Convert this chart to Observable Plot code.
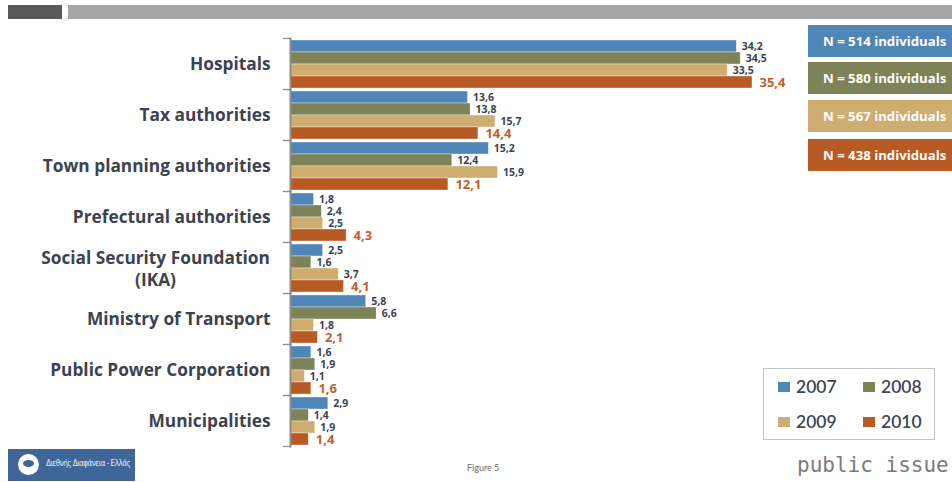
<!DOCTYPE html>
<html>
<head>
<meta charset="utf-8">
<script src="https://cdn.jsdelivr.net/npm/d3@7"></script>
<script src="https://cdn.jsdelivr.net/npm/@observablehq/plot@0.6"></script>
<style>
  html, body { margin: 0; padding: 0; background: #fff; }
  #page { position: relative; width: 952px; height: 482px; overflow: hidden; background: #fff; font-family: "Open Sans", Lato, sans-serif; }
  #chart { position: absolute; left: 0; top: 0; }
  .abs { position: absolute; }
  .nbox { position: absolute; left: 808px; width: 150px; height: 32px; line-height: 32px; color: #fff; font-weight: bold; font-size: 13.2px; padding-left: 15px; box-sizing: border-box; white-space: nowrap; font-family: "Open Sans", sans-serif; }
  #legend { position: absolute; left: 763px; top: 368px; width: 172px; height: 72px; border: 1px solid #c4c4c4; box-sizing: border-box; background: #fff; }
  .li { position: absolute; font-size: 17.5px; color: #3f4656; line-height: 14px; font-weight: 600; font-family: Lato, sans-serif; }
  .sw { position: absolute; width: 12px; height: 10px; }
</style>
</head>
<body>
<div id="page">
  <div id="chart"></div>
  <div class="abs" style="left:8px;top:5px;width:54px;height:14px;background:#595959"></div>
  <div class="abs" style="left:68px;top:5px;width:884px;height:14px;background:#a6a6a6"></div>
  <div id="nboxes"></div>
  <div id="legend"></div>
  <div class="abs" style="left:8px;top:449px;width:127px;height:32px;background:#3f6698;overflow:hidden">
    <div class="abs" style="left:10px;top:5px;width:21px;height:21px;border-radius:50%;background:#fff"></div>
    <div class="abs" style="left:15px;top:11px;width:11px;height:7px;border-radius:50%;background:#3f6698"></div>
    <div class="abs" style="left:38px;top:10px;font-size:8px;color:#e8eef6;white-space:nowrap;letter-spacing:-0.5px;font-family:'Liberation Sans Narrow','DejaVu Sans Condensed',sans-serif">Διεθνής Διαφάνεια - Ελλάς</div>
  </div>
  <div class="abs" style="left:467px;top:462px;font-size:9px;color:#6a6a6a;font-family:Lato,sans-serif">Figure 5</div>
  <div class="abs" style="left:797px;top:453px;font-size:21px;color:#7b7b7b;font-family:'DejaVu Sans Mono',monospace;white-space:nowrap">public issue</div>
</div>
<script>
const categories = ["Hospitals", "Tax authorities", "Town planning authorities", "Prefectural authorities",
  "Social Security Foundation\n(IKA)", "Ministry of Transport", "Public Power Corporation", "Municipalities"];
const years = ["2007", "2008", "2009", "2010"];
const sampleSizes = ["N = 514 individuals", "N = 580 individuals", "N = 567 individuals", "N = 438 individuals"];
const values2007 = [34.2, 13.6, 15.2, 1.8, 2.5, 5.8, 1.6, 2.9];
const values2008 = [34.5, 13.8, 12.4, 2.4, 1.6, 6.6, 1.9, 1.4];
const values2009 = [33.5, 15.7, 15.9, 2.5, 3.7, 1.8, 1.1, 1.9];
const values2010 = [35.4, 14.4, 12.1, 4.3, 4.1, 2.1, 1.6, 1.4];
const colors = ["#5085b8", "#7e8357", "#cfac6f", "#b85a24"];

const series = [values2007, values2008, values2009, values2010];
const data = [];
categories.forEach((c, i) => years.forEach((y, j) => data.push({cat: c, year: y, value: series[j][i]})));
const fmt = v => v.toFixed(1).replace(".", ",");
const multi = categories.filter(c => c.includes("\n"));
const single = categories.filter(c => !c.includes("\n"));

const chart = Plot.plot({
  width: 952, height: 482,
  marginLeft: 290, marginRight: 140, marginTop: 38, marginBottom: 36,
  style: {background: "transparent", fontFamily: "'Open Sans', sans-serif"},
  x: {domain: [0, 40], axis: null},
  fy: {domain: categories, padding: 0, axis: null},
  y: {domain: years, paddingInner: 0.04, paddingOuter: 0.1, axis: null},
  color: {domain: years, range: colors},
  marks: [
    Plot.barX(data, {fy: "cat", y: "year", x: "value", fill: "year", stroke: "#fff", strokeOpacity: 0.6, strokeWidth: 0.6}),
    Plot.text(data.filter(d => d.year !== "2010"), {fy: "cat", y: "year", x: "value", text: d => fmt(d.value),
      dx: 5, textAnchor: "start", fontSize: 10.5, fontWeight: "bold", fill: "#3b4352"}),
    Plot.text(data.filter(d => d.year === "2010"), {fy: "cat", y: "year", x: "value", text: d => fmt(d.value),
      dx: 7, textAnchor: "start", fontSize: 13, fontWeight: "bold", fill: "#c2602a"}),
    Plot.frame({anchor: "left", stroke: "#8c8c8c", strokeWidth: 2}),
    Plot.frame({anchor: "top", insetLeft: -7, insetRight: 522, stroke: "#8c8c8c", strokeWidth: 1.2}),
    Plot.frame({anchor: "bottom", insetLeft: -7, insetRight: 522, stroke: "#8c8c8c", strokeWidth: 1.2}),
    Plot.text(single, {fy: d => d, text: d => d, frameAnchor: "left", dx: -20, textAnchor: "end",
      fontSize: 17.3, fontWeight: "bold", fill: "#3d4250"}),
    Plot.text(multi, {fy: d => d, text: d => d, frameAnchor: "left", dx: -135, textAnchor: "middle",
      lineHeight: 1.3, fontSize: 17.3, fontWeight: "bold", fill: "#3d4250"})
  ]
});
document.getElementById("chart").appendChild(chart);

const nb = document.getElementById("nboxes");
const nTops = [25, 62, 100, 139];
sampleSizes.forEach((s, i) => {
  const d = document.createElement("div");
  d.className = "nbox";
  d.style.top = nTops[i] + "px";
  d.style.background = colors[i];
  d.textContent = s;
  nb.appendChild(d);
});

const lg = document.getElementById("legend");
const pos = [[14, 13], [99, 13], [14, 48], [99, 48]];
years.forEach((y, i) => {
  const sw = document.createElement("div");
  sw.className = "sw";
  sw.style.left = pos[i][0] + "px";
  sw.style.top = pos[i][1] + "px";
  sw.style.background = colors[i];
  lg.appendChild(sw);
  const t = document.createElement("div");
  t.className = "li";
  t.style.left = (pos[i][0] + 18) + "px";
  t.style.top = (pos[i][1] - 2) + "px";
  t.textContent = y;
  lg.appendChild(t);
});
</script>
</body>
</html>
